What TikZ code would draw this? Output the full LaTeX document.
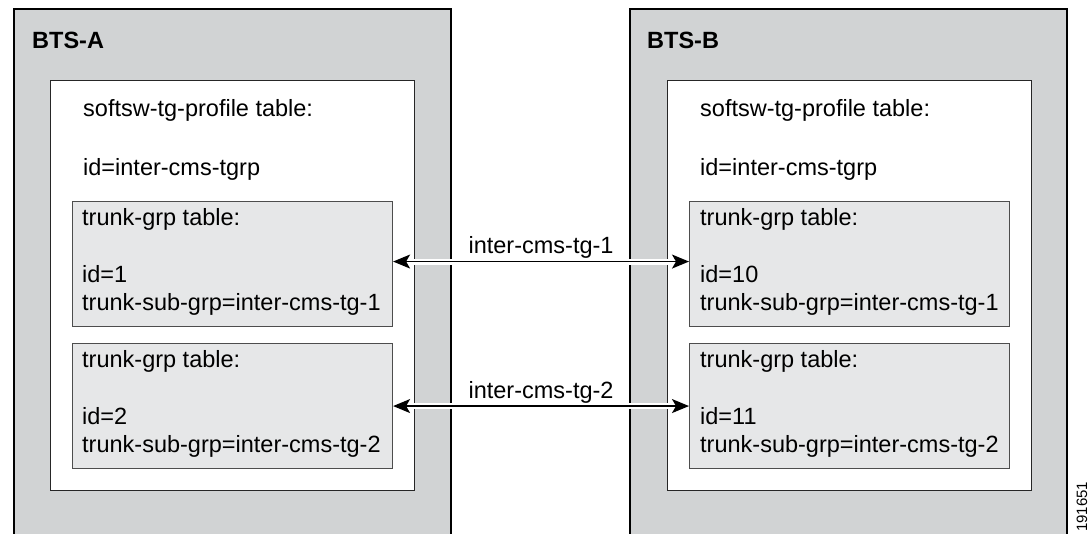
\documentclass[tikz,border=0pt]{standalone}
\usepackage{fontspec}
\setmainfont{Liberation Sans}
\usetikzlibrary{arrows.meta}
\definecolor{outergray}{HTML}{D1D3D4}
\definecolor{tggray}{HTML}{E6E7E8}
\definecolor{tgborder}{HTML}{4D4D4D}
\tikzset{
  bts/.style={draw=black, line width=1.8pt, fill=outergray, anchor=north west, minimum width=437pt, minimum height=580pt, inner sep=0pt},
  profile/.style={draw=black!85, line width=1.3pt, fill=white, anchor=north west, minimum width=364pt, minimum height=410pt, inner sep=0pt},
  tgbox/.style={draw=tgborder, line width=1.1pt, fill=tggray, anchor=north west, minimum width=320pt, minimum height=125pt, inner sep=0pt},
  txt/.style={anchor=base west, inner sep=0pt, font=\fontsize{23.5}{28}\selectfont},
  title/.style={anchor=base west, inner sep=0pt, font=\fontsize{23.5}{28}\selectfont\bfseries},
  lbl/.style={anchor=base, inner sep=0pt, font=\fontsize{23.5}{28}\selectfont},
  halo/.style={draw=white, line width=6pt, shorten <=14pt, shorten >=14pt},
  link/.style={draw=black, line width=1.4pt, {Stealth[length=17pt,width=14pt,inset=4pt]}-{Stealth[length=17pt,width=14pt,inset=4pt]}}
}
\begin{document}
\begin{tikzpicture}[x=1pt,y=-1pt]
\useasboundingbox (0,0) rectangle (1089,533);
\clip (0,0) rectangle (1089,533);
% outer system boxes
\node[bts] (btsA) at (13,8) {};
\node[bts] (btsB) at (629,8) {};
\node[title] (tA) at (32,48) {BTS-A};
\node[title] (tB) at (647,48) {BTS-B};
% profile tables
\node[profile] (pA) at (50,80) {};
\node[profile] (pB) at (667,80) {};
\node[txt] (pAt1) at (83,116) {softsw-tg-profile table:};
\node[txt] (pAt2) at (83,175) {id=inter-cms-tgrp};
\node[txt] (pBt1) at (700,116) {softsw-tg-profile table:};
\node[txt] (pBt2) at (700,175) {id=inter-cms-tgrp};
% trunk-grp tables
\node[tgbox] (A1) at (72,201) {};
\node[tgbox] (A2) at (72,343) {};
\node[tgbox] (B1) at (689,201) {};
\node[tgbox] (B2) at (689,343) {};
\node[txt] at (82,225) {trunk-grp table:};
\node[txt] at (82,282) {id=1};
\node[txt] at (82,310) {trunk-sub-grp=inter-cms-tg-1};
\node[txt] at (82,367) {trunk-grp table:};
\node[txt] at (82,424) {id=2};
\node[txt] at (82,452) {trunk-sub-grp=inter-cms-tg-2};
\node[txt] at (700,225) {trunk-grp table:};
\node[txt] at (700,282) {id=10};
\node[txt] at (700,310) {trunk-sub-grp=inter-cms-tg-1};
\node[txt] at (700,367) {trunk-grp table:};
\node[txt] at (700,424) {id=11};
\node[txt] at (700,452) {trunk-sub-grp=inter-cms-tg-2};
% links
\path[halo] ([yshift=2.5pt]A1.east) -- ([yshift=2.5pt]B1.west);
\draw[link] ([yshift=2.5pt]A1.east) -- node[lbl, yshift=8pt] (l1) {inter-cms-tg-1} ([yshift=2.5pt]B1.west);
\path[halo] (A2.east) -- (B2.west);
\draw[link] (A2.east) -- node[lbl, yshift=8pt] (l2) {inter-cms-tg-2} (B2.west);
% figure number
\node[anchor=base west, inner sep=0pt, rotate=90, font=\fontsize{15}{17}\selectfont] (fig) at (1087,532) {191651};
\end{tikzpicture}
\end{document}
